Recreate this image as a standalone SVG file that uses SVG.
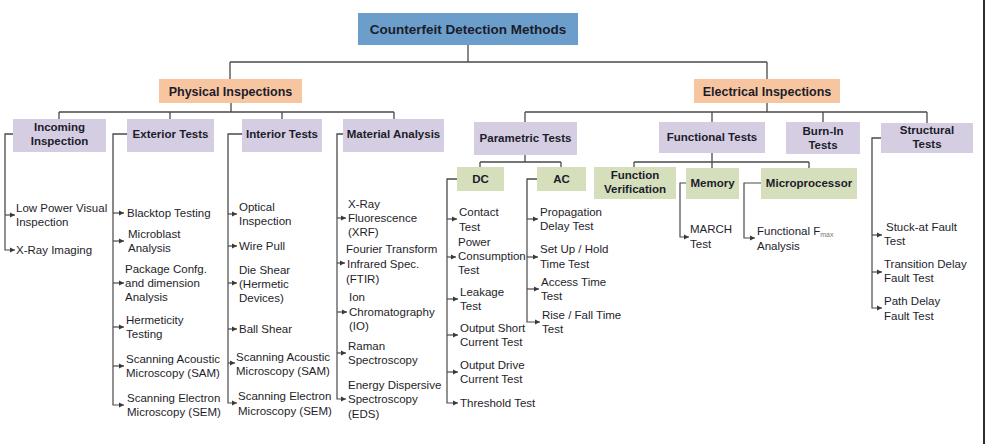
<svg xmlns="http://www.w3.org/2000/svg" width="985" height="444" viewBox="0 0 985 444">
<style>
.ln{fill:none;stroke:#4a4a4a;stroke-width:1.3}
.ar{fill:none;stroke:#4a4a4a;stroke-width:1.2;marker-end:url(#ah)}
.root{fill:#6b9ecb}
.cat{fill:#f7c6a0}
.grp{fill:#d5cee3}
.sub{fill:#d6dfbc}
.bt{font-family:"Liberation Sans",Arial,sans-serif;font-weight:bold;font-size:11.5px;fill:#1c1c2a;text-anchor:middle}
.bt2{font-family:"Liberation Sans",Arial,sans-serif;font-weight:bold;font-size:12.5px;fill:#1c1c2a;text-anchor:middle}
.lf{font-family:"Liberation Sans",Arial,sans-serif;font-size:11.5px;fill:#1e1e2a}
</style>
<defs>
<marker id="ah" markerUnits="userSpaceOnUse" markerWidth="6" markerHeight="6" refX="5" refY="3" orient="auto">
<path d="M0,0.5 L5,3 L0,5.5 z" fill="#3a3a3a"/>
</marker>
</defs>
<rect width="985" height="444" fill="#ffffff"/>
<line x1="984" y1="0" x2="984" y2="444" stroke="#2e2e2e" stroke-width="2"/>

<g id="connectors">
<path class="ln" d="M468,45 V62 M230,62 H767 M230,62 V79 M767,62 V79"/>
<path class="ln" d="M231,103 V112 M59,112 H394 M59,112 V119 M170,112 V119 M282,112 V119 M394,112 V119"/>
<path class="ln" d="M767,103 V112 M525,112 H927 M525,112 V122 M712,112 V122 M823,112 V122 M927,112 V123"/>
<path class="ln" d="M525,155 V162 M480,162 H561 M480,162 V167 M561,162 V167"/>
<path class="ln" d="M712,153 V168 M634,162 H809 M634,162 V167 M809,162 V168"/>
<path class="ln" d="M13,134 H5 V215"/>
<path class="ar" d="M5,215 H15"/>
<path class="ar" d="M5,215 V250 H15"/>
<path class="ln" d="M127,134 H113 V213"/>
<path class="ar" d="M113,213 H124"/>
<path class="ar" d="M113,241 H124"/>
<path class="ar" d="M113,283 H124"/>
<path class="ar" d="M113,327 H124"/>
<path class="ar" d="M113,366 H124"/>
<path class="ar" d="M113,213 V405 H124"/>
<path class="ln" d="M242,134 H228 V214"/>
<path class="ar" d="M228,214 H237"/>
<path class="ar" d="M228,246 H237"/>
<path class="ar" d="M228,283 H237"/>
<path class="ar" d="M228,329 H237"/>
<path class="ar" d="M228,363 H235"/>
<path class="ar" d="M228,214 V403 H237"/>
<path class="ln" d="M343,134 H337 V218"/>
<path class="ar" d="M337,218 H346"/>
<path class="ar" d="M337,263 H345"/>
<path class="ar" d="M337,312 H347"/>
<path class="ar" d="M337,353 H346"/>
<path class="ar" d="M337,218 V399 H346"/>
<path class="ln" d="M457,179 H447 V219"/>
<path class="ar" d="M447,219 H457"/>
<path class="ar" d="M447,257 H456"/>
<path class="ar" d="M447,299 H458"/>
<path class="ar" d="M447,335 H458"/>
<path class="ar" d="M447,372 H458"/>
<path class="ar" d="M447,219 V403 H458"/>
<path class="ln" d="M537,179 H527 V219"/>
<path class="ar" d="M527,219 H538"/>
<path class="ar" d="M527,257 H538"/>
<path class="ar" d="M527,289 H539"/>
<path class="ar" d="M527,219 V322 H540"/>
<path class="ar" d="M686,183 H680 V237 H689"/>
<path class="ar" d="M761,183 H744 V238 H755"/>
<path class="ln" d="M881,138 H872 V235"/>
<path class="ar" d="M872,235 H882"/>
<path class="ar" d="M872,272 H882"/>
<path class="ar" d="M872,235 V308 H882"/>
</g>

<g id="root"><rect class="root" x="358" y="13" width="220" height="32"/><text class="bt2" x="468" y="34" style="font-size:13.5px">Counterfeit Detection Methods</text></g>
<g id="physical"><rect class="cat" x="159" y="79" width="143" height="24"/><text class="bt2" x="230.5" y="95.5">Physical Inspections</text></g>
<g id="electrical"><rect class="cat" x="694" y="79" width="146" height="24"/><text class="bt2" x="767" y="95.5">Electrical Inspections</text></g>

<g id="incoming"><rect class="grp" x="13" y="119" width="93" height="33"/><text class="bt" x="59.5" y="131">Incoming</text><text class="bt" x="59.5" y="145">Inspection</text></g>
<g id="exterior"><rect class="grp" x="127" y="119" width="87" height="33"/><text class="bt" x="170.5" y="138">Exterior Tests</text></g>
<g id="interior"><rect class="grp" x="242" y="119" width="80" height="33"/><text class="bt" x="282" y="138">Interior Tests</text></g>
<g id="material"><rect class="grp" x="343" y="119" width="101" height="33"/><text class="bt" x="393.5" y="138">Material Analysis</text></g>
<g id="parametric"><rect class="grp" x="474" y="122" width="103" height="33"/><text class="bt" x="525.5" y="142">Parametric Tests</text></g>
<g id="functional"><rect class="grp" x="659" y="122" width="106" height="31"/><text class="bt" x="712" y="141">Functional Tests</text></g>
<g id="burnin"><rect class="grp" x="786" y="122" width="74" height="32"/><text class="bt" x="823" y="135">Burn-In</text><text class="bt" x="823" y="149">Tests</text></g>
<g id="structural"><rect class="grp" x="881" y="123" width="92" height="30"/><text class="bt" x="927" y="134">Structural</text><text class="bt" x="927" y="148">Tests</text></g>

<g id="dc"><rect class="sub" x="457" y="167" width="47" height="24"/><text class="bt" x="480.5" y="183">DC</text></g>
<g id="ac"><rect class="sub" x="537" y="167" width="49" height="24"/><text class="bt" x="561.5" y="183">AC</text></g>
<g id="funcver"><rect class="sub" x="594" y="167" width="82" height="32"/><text class="bt" x="635" y="179">Function</text><text class="bt" x="635" y="193">Verification</text></g>
<g id="memory"><rect class="sub" x="686" y="168" width="53" height="31"/><text class="bt" x="712.5" y="187">Memory</text></g>
<g id="microprocessor"><rect class="sub" x="761" y="168" width="96" height="31"/><text class="bt" x="809" y="187">Microprocessor</text></g>

<g id="incoming-leaves">
<text class="lf" x="16" y="212">Low Power Visual</text><text class="lf" x="16" y="226">Inspection</text>
<text class="lf" x="16" y="254">X-Ray Imaging</text>
</g>
<g id="exterior-leaves">
<text class="lf" x="127" y="217">Blacktop Testing</text>
<text class="lf" x="128" y="238">Microblast</text><text class="lf" x="128" y="252">Analysis</text>
<text class="lf" x="125" y="273">Package Confg.</text><text class="lf" x="125" y="287">and dimension</text><text class="lf" x="125" y="301">Analysis</text>
<text class="lf" x="126" y="324">Hermeticity</text><text class="lf" x="126" y="338">Testing</text>
<text class="lf" x="126" y="363">Scanning Acoustic</text><text class="lf" x="126" y="377">Microscopy (SAM)</text>
<text class="lf" x="127" y="402">Scanning Electron</text><text class="lf" x="127" y="416">Microscopy (SEM)</text>
</g>
<g id="interior-leaves">
<text class="lf" x="239" y="211">Optical</text><text class="lf" x="239" y="225">Inspection</text>
<text class="lf" x="239" y="250">Wire Pull</text>
<text class="lf" x="239" y="274">Die Shear</text><text class="lf" x="239" y="288">(Hermetic</text><text class="lf" x="239" y="302">Devices)</text>
<text class="lf" x="239" y="333">Ball Shear</text>
<text class="lf" x="236" y="361">Scanning Acoustic</text><text class="lf" x="236" y="375">Microscopy (SAM)</text>
<text class="lf" x="238" y="400">Scanning Electron</text><text class="lf" x="238" y="415">Microscopy (SEM)</text>
</g>
<g id="material-leaves">
<text class="lf" x="348" y="208">X-Ray</text><text class="lf" x="348" y="222">Fluorescence</text><text class="lf" x="348" y="236">(XRF)</text>
<text class="lf" x="346" y="253">Fourier Transform</text><text class="lf" x="347" y="268">Infrared Spec.</text><text class="lf" x="346" y="283">(FTIR)</text>
<text class="lf" x="349" y="301">Ion</text><text class="lf" x="349" y="316">Chromatography</text><text class="lf" x="349" y="330">(IO)</text>
<text class="lf" x="348" y="350">Raman</text><text class="lf" x="348" y="364">Spectroscopy</text>
<text class="lf" x="348" y="389">Energy Dispersive</text><text class="lf" x="348" y="403">Spectroscopy</text><text class="lf" x="348" y="418">(EDS)</text>
</g>
<g id="dc-leaves">
<text class="lf" x="459" y="216">Contact</text><text class="lf" x="459" y="231">Test</text>
<text class="lf" x="458" y="246">Power</text><text class="lf" x="458" y="260">Consumption</text><text class="lf" x="458" y="274">Test</text>
<text class="lf" x="460" y="296">Leakage</text><text class="lf" x="460" y="310">Test</text>
<text class="lf" x="460" y="332">Output Short</text><text class="lf" x="460" y="346">Current Test</text>
<text class="lf" x="460" y="369">Output Drive</text><text class="lf" x="460" y="383">Current Test</text>
<text class="lf" x="460" y="407">Threshold Test</text>
</g>
<g id="ac-leaves">
<text class="lf" x="540" y="216">Propagation</text><text class="lf" x="540" y="230">Delay Test</text>
<text class="lf" x="540" y="253">Set Up / Hold</text><text class="lf" x="540" y="268">Time Test</text>
<text class="lf" x="541" y="286">Access Time</text><text class="lf" x="541" y="300">Test</text>
<text class="lf" x="542" y="319">Rise / Fall Time</text><text class="lf" x="542" y="333">Test</text>
</g>
<g id="memory-leaves">
<text class="lf" x="690" y="233">MARCH</text><text class="lf" x="690" y="248">Test</text>
</g>
<g id="micro-leaves">
<text class="lf" x="757" y="235">Functional F<tspan font-size="7" dy="2" fill="#777">max</tspan></text><text class="lf" x="757" y="250">Analysis</text>
</g>
<g id="structural-leaves">
<text class="lf" x="886" y="231">Stuck-at Fault</text><text class="lf" x="884" y="245">Test</text>
<text class="lf" x="884" y="268">Transition Delay</text><text class="lf" x="884" y="282">Fault Test</text>
<text class="lf" x="884" y="305">Path Delay</text><text class="lf" x="884" y="320">Fault Test</text>
</g>
</svg>
